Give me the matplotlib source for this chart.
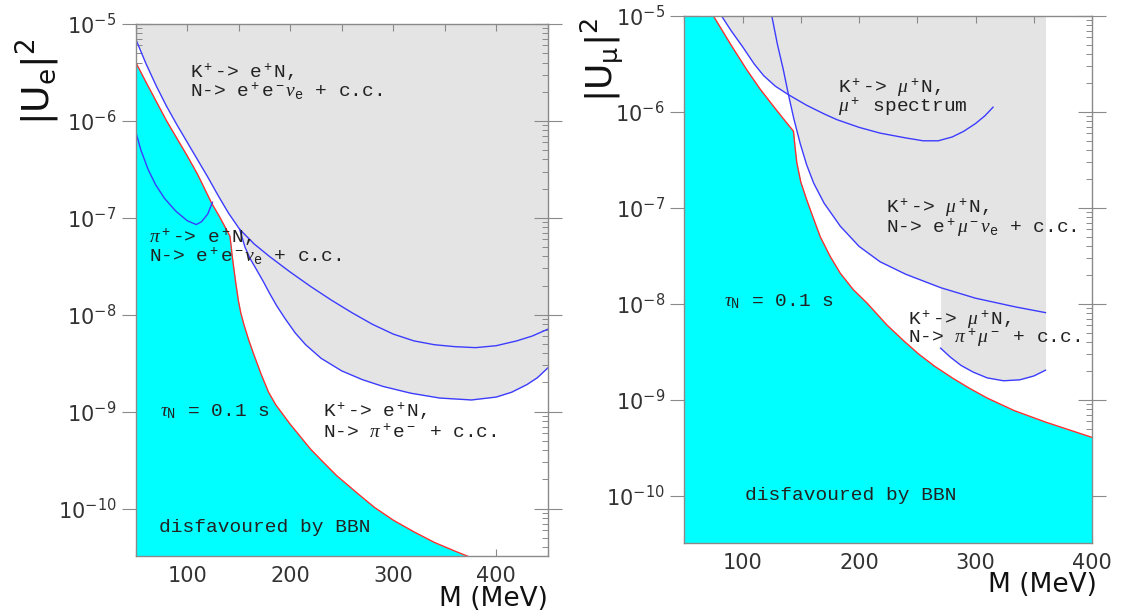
import numpy as np
import matplotlib
matplotlib.use('Agg')
import matplotlib.pyplot as plt
from matplotlib.ticker import MultipleLocator, NullFormatter, LogLocator

plt.rcParams['font.family'] = 'DejaVu Sans'
plt.rcParams['mathtext.fontset'] = 'custom'
plt.rcParams['mathtext.rm'] = 'Liberation Mono'
plt.rcParams['mathtext.it'] = 'Liberation Serif:italic'
plt.rcParams['mathtext.sf'] = 'DejaVu Sans'

# ---- left panel: |U_e|^2 (M in MeV, values as log10 |U|^2) ----
e_bbn_m = [50, 60, 70, 80, 90, 100, 110, 123.8, 132, 141.5, 144, 147, 149.6, 152, 155, 160,
           165, 172, 179, 186, 193, 200, 210, 220, 231, 245, 255, 266, 282, 300, 320, 340,
           360, 374]
e_bbn_lg = [-5.395, -5.6, -5.8, -6.0, -6.18, -6.36, -6.55, -6.85, -7.0, -7.19, -7.42, -7.66,
            -7.85, -7.98, -8.1, -8.27, -8.42, -8.62, -8.8, -8.93, -9.03, -9.13, -9.26, -9.39,
            -9.51, -9.66, -9.75, -9.85, -9.99, -10.12, -10.24, -10.35, -10.44, -10.5]

e_kee_m = [50, 60, 70, 80, 90, 100, 110, 120, 130, 140, 151, 165, 180, 200, 220, 240, 260,
           280, 300, 320, 340, 360, 380, 400, 420, 435, 450]
e_kee_lg = [-5.155, -5.41, -5.64, -5.85, -6.04, -6.22, -6.4, -6.58, -6.77, -6.95, -7.12,
            -7.27, -7.4, -7.56, -7.71, -7.85, -7.98, -8.1, -8.2, -8.27, -8.31, -8.33, -8.34,
            -8.32, -8.27, -8.22, -8.15]

e_kpe_m = [151, 156, 161, 167, 174, 180, 187, 195, 205, 215, 230, 250, 270, 290, 317, 345,
           376, 400, 415, 430, 440, 450]
e_kpe_lg = [-7.12, -7.3, -7.42, -7.53, -7.66, -7.78, -7.91, -8.04, -8.19, -8.31, -8.45,
            -8.58, -8.67, -8.74, -8.81, -8.86, -8.88, -8.85, -8.8, -8.72, -8.65, -8.55]

e_pi_m = [50, 55, 62, 69.4, 78, 88.8, 100, 108.8, 114, 120, 124.5]
e_pi_lg = [-6.11, -6.3, -6.5, -6.66, -6.8, -6.93, -7.03, -7.07, -7.04, -6.96, -6.84]

# ---- right panel: |U_mu|^2 ----
m_bbn_m = [75, 90, 103.6, 115, 126.5, 135, 143.7, 145, 146.6, 150, 155.2, 160, 166.7, 175,
           183.9, 195, 206.8, 215, 224, 238, 251, 265, 280, 295, 310, 333, 360, 380, 400]
m_bbn_lg = [-5.0, -5.3, -5.56, -5.76, -5.94, -6.07, -6.2, -6.36, -6.53, -6.73, -6.92, -7.08,
            -7.3, -7.5, -7.68, -7.85, -7.99, -8.1, -8.22, -8.38, -8.52, -8.65, -8.77, -8.88,
            -8.98, -9.11, -9.23, -9.31, -9.39]

m_spec_m = [82, 90, 100, 110, 118, 128, 139.4, 155, 170, 181, 200, 218, 240, 255, 268, 280,
            290, 300, 308, 315]
m_spec_lg = [-5.0, -5.15, -5.32, -5.5, -5.62, -5.73, -5.82, -5.93, -6.02, -6.08, -6.16,
             -6.22, -6.27, -6.3, -6.3, -6.26, -6.2, -6.12, -6.04, -5.95]

m_kemu_m = [125.1, 130, 135, 139.4, 144, 149.5, 155, 161, 170, 183.9, 200, 218, 240, 270,
            300, 334, 360]
m_kemu_lg = [-5.0, -5.3, -5.56, -5.82, -6.07, -6.33, -6.55, -6.74, -6.95, -7.19, -7.4, -7.56,
             -7.69, -7.83, -7.94, -8.03, -8.09]

m_kpimu_m = [270, 278, 287.5, 298, 310, 324, 338, 350, 360]
m_kpimu_lg = [-8.46, -8.55, -8.64, -8.71, -8.77, -8.8, -8.79, -8.75, -8.69]

XMIN = 50
YMAX = 1e-5
YMIN = 10 ** -10.49

CYAN = '#00ffff'
GRAY = '#e4e4e4'
BLUE = '#3c3cff'
RED = '#ff3030'
AXC = '#8a8a8a'


def pw(lg):
    return 10 ** np.array(lg)


def style(ax, xmax):
    ax.set_yscale('log')
    ax.set_xlim(XMIN, xmax)
    ax.set_ylim(YMIN, YMAX)
    ax.xaxis.set_major_locator(MultipleLocator(100))
    ax.xaxis.set_minor_locator(MultipleLocator(50))
    ax.yaxis.set_major_locator(LogLocator(base=10, numticks=20))
    ax.yaxis.set_minor_locator(LogLocator(base=10, subs=np.arange(2, 10), numticks=20))
    ax.yaxis.set_minor_formatter(NullFormatter())
    ax.tick_params(axis='x', which='both', direction='in', top=True, length=5, width=0.8,
                   color=AXC, labelsize=15, labelcolor='#333333', pad=7)
    ax.tick_params(axis='y', which='major', direction='inout', left=True, right=True,
                   length=20, width=0.8, color=AXC, labelsize=15, labelcolor='#333333', pad=4)
    ax.tick_params(axis='y', which='minor', direction='in', left=True, right=True,
                   length=4, width=0.7, color=AXC)
    for s in ax.spines.values():
        s.set_color(AXC)
        s.set_linewidth(1)
        s.set_zorder(6)


def lab(ax, m, lg, txt):
    ax.text(m, 10 ** lg, txt, family='Liberation Mono', fontsize=14, color='#222222',
            ha='left', va='center', zorder=5)


fig = plt.figure(figsize=(11.27, 6.13), dpi=100)
axL = fig.add_axes([0.1204, 0.093, 0.3656, 0.8679])
axR = fig.add_axes([0.6072, 0.1142, 0.3618, 0.8597])

# left panel
style(axL, 450)
env_m = [m for m in e_kee_m if m < e_kpe_m[0]] + e_kpe_m
env_lg = [v for m, v in zip(e_kee_m, e_kee_lg) if m < e_kpe_m[0]] + e_kpe_lg
axL.fill_between(env_m, pw(env_lg), YMAX, color=GRAY, lw=0, zorder=1)
axL.fill_between(e_bbn_m, pw(e_bbn_lg), YMIN, color=CYAN, lw=0, zorder=2)
axL.plot(e_bbn_m, pw(e_bbn_lg), color=RED, lw=1, zorder=3)
axL.plot(e_kee_m, pw(e_kee_lg), color=BLUE, lw=1, zorder=3)
axL.plot(e_kpe_m, pw(e_kpe_lg), color=BLUE, lw=1, zorder=3)
axL.plot(e_pi_m, pw(e_pi_lg), color=BLUE, lw=1, zorder=3)

lab(axL, 103, -5.5, r'K$^+$-> e$^+$N,')
lab(axL, 103, -5.7, r'N-> e$^+$e$^-\nu_{\rm e}$ + c.c.')
lab(axL, 62.6, -7.2, r'$\pi^+$-> e$^+$N,')
lab(axL, 62.6, -7.4, r'N-> e$^+$e$^-\nu_{\rm e}$ + c.c.')
lab(axL, 74, -9.0, r'$\tau_{\rm N}$ = 0.1 s')
lab(axL, 232, -9.0, r'K$^+$-> e$^+$N,')
lab(axL, 232, -9.21, r'N-> $\pi^+$e$^-$ + c.c.')
lab(axL, 73, -10.2, 'disfavoured by BBN')

# right panel
style(axR, 400)
k1 = [i for i, m in enumerate(m_spec_m) if m <= 139.4]
k2 = [i for i, m in enumerate(m_kemu_m) if 139.4 < m <= m_kpimu_m[0]]
envr_m = [m_spec_m[i] for i in k1] + [m_kemu_m[i] for i in k2] + m_kpimu_m
envr_lg = [m_spec_lg[i] for i in k1] + [m_kemu_lg[i] for i in k2] + m_kpimu_lg
axR.fill_between(envr_m, pw(envr_lg), YMAX, color=GRAY, lw=0, zorder=1)
cyan_m = [XMIN] + m_bbn_m
cyan_u = np.concatenate([[YMAX], pw(m_bbn_lg)])
axR.fill_between(cyan_m, cyan_u, YMIN, color=CYAN, lw=0, zorder=2)
axR.plot(m_bbn_m, pw(m_bbn_lg), color=RED, lw=1, zorder=3)
axR.plot(m_spec_m, pw(m_spec_lg), color=BLUE, lw=1, zorder=3)
axR.plot(m_kemu_m, pw(m_kemu_lg), color=BLUE, lw=1, zorder=3)
axR.plot(m_kpimu_m, pw(m_kpimu_lg), color=BLUE, lw=1, zorder=3)

lab(axR, 182, -5.75, r'K$^+$-> $\mu^+$N,')
lab(axR, 182, -5.95, r'$\mu^+$ spectrum')
lab(axR, 223, -7.0, r'K$^+$-> $\mu^+$N,')
lab(axR, 223, -7.21, r'N-> e$^+\mu^-\nu_{\rm e}$ + c.c.')
lab(axR, 84, -7.98, r'$\tau_{\rm N}$ = 0.1 s')
lab(axR, 242, -8.16, r'K$^+$-> $\mu^+$N,')
lab(axR, 242, -8.35, r'N-> $\pi^+\mu^-$ + c.c.')
lab(axR, 102, -10.0, 'disfavoured by BBN')

# axis titles
fig.text(38 / 1127, 1 - 82 / 613, r'$\mathsf{|U_e|^2}$', rotation=90, fontsize=27,
         ha='center', va='center', color='#111111')
fig.text(602 / 1127, 1 - 60 / 613, r'$\mathsf{|U_\mu|^2}$', rotation=90, fontsize=26,
         ha='center', va='center', color='#111111')
fig.text(548 / 1127, 1 - 599 / 613, 'M (MeV)', fontsize=19, ha='right', va='center',
         color='#111111')
fig.text(1097 / 1127, 1 - 585 / 613, 'M (MeV)', fontsize=19, ha='right', va='center',
         color='#111111')

fig.savefig('out.png', dpi=100)
